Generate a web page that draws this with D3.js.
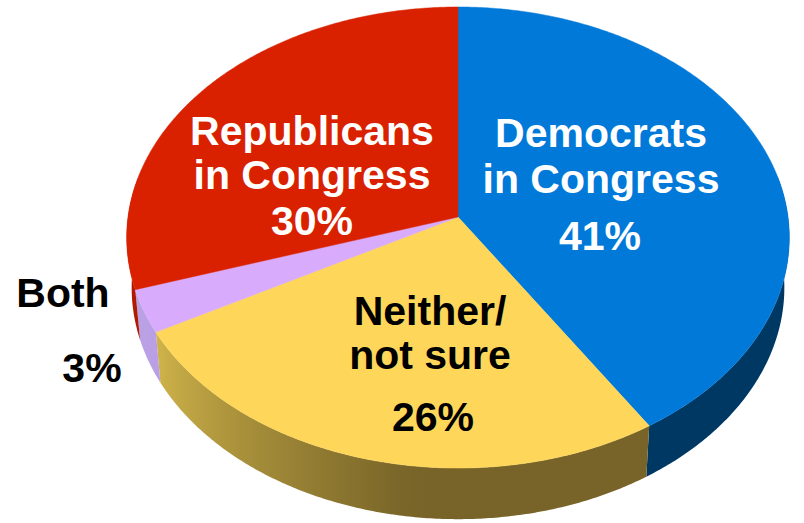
<!DOCTYPE html>
<html><head><meta charset="utf-8">
<script src="https://cdn.jsdelivr.net/npm/d3@7"></script>
<style>html,body{margin:0;padding:0;background:#fff;} svg{display:block;}</style>
</head><body>
<svg id="chart" width="804" height="523"></svg>
<script>
// ---- data ----
const categories = ["Democrats in Congress", "Neither/not sure", "Both", "Republicans in Congress"];
const values = [41, 26, 3, 30];
const labelLines = [["Democrats", "in Congress"], ["Neither/", "not sure"], ["Both"], ["Republicans", "in Congress"]];
const valueLabels = ["41%", "26%", "3%", "30%"];
// ---- styles ----
const topColors = ["#0079d9", "#fed65a", "#d8abfc", "#d92100"];
const sideLight = ["#003864", "#d6ba4c", "#baa0e4", "#b01a00"];
const sideDark  = ["#003864", "#786428", "#a98cd6", "#b01a00"];
const textColors = ["#ffffff", "#000000", "#000000", "#ffffff"];

const svg = d3.select("#chart");
const defs = svg.append("defs");
const cx = 458, cy = 217, Rx = 330, Ry = 228.7, e = 0.089, D = 50, k = 0.985;
function proj(a) {
  const s = Math.sin(a), yn = -Math.cos(a);
  const w = 1 / (1 - e * yn);
  return [cx + Rx * s * w, cy + Ry * yn * w];
}
function projB(a) {
  const s = Math.sin(a), yn = -Math.cos(a);
  const w = 1 / (1 - e * yn);
  return [cx + k * Rx * s * w, cy + k * Ry * yn * w + D * w + (1 - k) * 0];
}

const data = categories.map((c, i) => ({c, v: values[i], i}));
const arcs = d3.pie().sort(null).value(d => d.v).startAngle(0).endAngle(2 * Math.PI)(data);
const line = d3.line();
const step = Math.PI / 360;
const vis0 = 80 * Math.PI / 180, vis1 = 280 * Math.PI / 180;

function shadeT(a) {
  const deg = a * 180 / Math.PI;
  return Math.max(0, Math.min(1, (deg - 188) / (245 - 188)));
}

// side walls
const walls = [];
arcs.forEach(a => {
  const s0 = Math.max(a.startAngle, vis0), s1 = Math.min(a.endAngle, vis1);
  if (s1 <= s0) return;
  const n = Math.max(2, Math.ceil((s1 - s0) / step));
  const top = [], bot = [];
  for (let j = 0; j <= n; j++) {
    const ang = s0 + (s1 - s0) * j / n;
    top.push(proj(ang));
    bot.push(projB(ang));
  }
  const i = a.data.i;
  const id = "wg" + i;
  const xs = top.map(p => p[0]);
  const xmin = d3.min(xs), xmax = d3.max(xs);
  const grad = defs.append("linearGradient").attr("id", id)
    .attr("gradientUnits", "userSpaceOnUse")
    .attr("x1", xmin).attr("x2", xmax).attr("y1", 0).attr("y2", 0);
  const stops = [];
  for (let j = 0; j <= 20; j++) {
    const ang = s0 + (s1 - s0) * j / 20;
    const x = proj(ang)[0];
    stops.push({o: xmax > xmin ? (x - xmin) / (xmax - xmin) : 0,
      c: d3.interpolateRgb(sideDark[i], sideLight[i])(shadeT(ang))});
  }
  stops.sort((p, q) => p.o - q.o);
  grad.selectAll("stop").data(stops).join("stop")
    .attr("offset", d => d.o).attr("stop-color", d => d.c);
  walls.push({pts: top.concat(bot.reverse()), id});
});
svg.append("g").selectAll("path").data(walls).join("path")
  .attr("d", d => line(d.pts) + "Z")
  .attr("fill", d => `url(#${d.id})`);

// top faces
svg.append("g").selectAll("path").data(arcs).join("path")
  .attr("d", a => {
    const n = Math.max(2, Math.ceil((a.endAngle - a.startAngle) / step));
    const pts = [[cx, cy]];
    for (let j = 0; j <= n; j++) pts.push(proj(a.startAngle + (a.endAngle - a.startAngle) * j / n));
    return line(pts) + "Z";
  })
  .attr("fill", a => topColors[a.data.i])
  .attr("stroke", a => topColors[a.data.i])
  .attr("stroke-width", 0.5);

// labels (layout)
const labelPos = [
  {x: 601, ys: [147, 193], vx: 600, vy: 250},
  {x: 430, ys: [325, 369], vx: 433, vy: 431},
  {x: 63, ys: [307], vx: 92, vy: 382},
  {x: 312, ys: [145, 189], vx: 312, vy: 235}
];
const g = svg.append("g")
  .style("font-family", "'Liberation Sans', Arial, Helvetica, sans-serif")
  .style("font-weight", "bold")
  .style("font-size", "41px");
data.forEach(d => {
  const p = labelPos[d.i];
  const tc = textColors[d.i];
  labelLines[d.i].forEach((ln, j) => {
    g.append("text").attr("x", p.x).attr("y", p.ys[j]).attr("text-anchor", "middle")
      .attr("fill", tc).text(ln);
  });
  g.append("text").attr("x", p.vx).attr("y", p.vy).attr("text-anchor", "middle")
    .attr("fill", tc).text(valueLabels[d.i]);
});
</script>
</body></html>
